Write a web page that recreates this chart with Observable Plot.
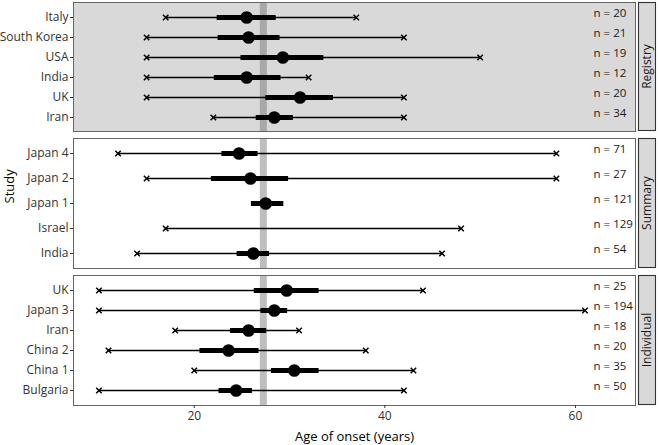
<!DOCTYPE html>
<html>
<head>
<meta charset="utf-8">
<script src="https://cdn.jsdelivr.net/npm/d3@7"></script>
<script src="https://cdn.jsdelivr.net/npm/@observablehq/plot@0.6"></script>
<style>
  html, body { margin: 0; padding: 0; background: #fff; }
  #chart { position: relative; width: 659px; height: 445px; font-family: "Open Sans", sans-serif; }
  #chart > svg { position: absolute; left: 0; }
</style>
</head>
<body>
<div id="chart"></div>
<script>
// ---------- data ----------
const groups = ["Registry", "Summary", "Individual"];

const registryStudies = ["Italy", "South Korea", "USA", "India", "UK", "Iran"];
const registryMin = [17, 15, 15, 15, 15, 22];
const registryQ1  = [22.4, 22.5, 24.9, 22.1, 27.5, 26.5];
const registryMed = [25.5, 25.7, 29.3, 25.5, 31.1, 28.4];
const registryQ3  = [28.6, 29.0, 33.6, 29.1, 34.6, 30.4];
const registryMax = [37, 42, 50, 32, 42, 42];
const registryN   = [20, 21, 19, 12, 20, 34];

const summaryStudies = ["Japan 4", "Japan 2", "Japan 1", "Israel", "India"];
const summaryMin = [12, 15, null, 17, 14];
const summaryQ1  = [22.9, 21.8, 26.0, null, 24.5];
const summaryMed = [24.7, 25.9, 27.5, null, 26.2];
const summaryQ3  = [26.7, 29.9, 29.4, null, 27.9];
const summaryMax = [58, 58, null, 48, 46];
const summaryN   = [71, 27, 121, 129, 54];

const individualStudies = ["UK", "Japan 3", "Iran", "China 2", "China 1", "Bulgaria"];
const individualMin = [10, 10, 18, 11, 20, 10];
const individualQ1  = [26.3, 27.0, 23.8, 20.6, 28.1, 22.6];
const individualMed = [29.7, 28.4, 25.7, 23.6, 30.5, 24.4];
const individualQ3  = [33.1, 29.8, 27.6, 26.8, 33.1, 26.1];
const individualMax = [44, 61, 31, 38, 43, 42];
const individualN   = [25, 194, 18, 20, 35, 50];

const overallOnset = 27.25;     // vertical reference band
const nLabelX = 61.9;           // x position (years) of the "n = " labels
const xTicks = [20, 40, 60];
const xDomain = [7.33, 66.3];

function rows(studies, mn, q1, med, q3, mx, n) {
  return studies.map((s, i) => ({study: s, min: mn[i], q1: q1[i], med: med[i], q3: q3[i], max: mx[i], n: n[i]}));
}

const panels = [
  {group: groups[0], studies: registryStudies, data: rows(registryStudies, registryMin, registryQ1, registryMed, registryQ3, registryMax, registryN),
   top: 0, height: 133, marginTop: 2, marginBottom: 2, fill: "#d9d9d9"},
  {group: groups[1], studies: summaryStudies, data: rows(summaryStudies, summaryMin, summaryQ1, summaryMed, summaryQ3, summaryMax, summaryN),
   top: 133, height: 137, marginTop: 5, marginBottom: 2, fill: "#ffffff", ylabel: "Study"},
  {group: groups[2], studies: individualStudies, data: rows(individualStudies, individualMin, individualQ1, individualMed, individualQ3, individualMax, individualN),
   top: 270, height: 175, marginTop: 5, marginBottom: 40, fill: "#ffffff", xaxis: true}
];

const W = 659, ML = 73, MR = 24;
const chart = document.getElementById("chart");

for (const p of panels) {
  const marks = [
    Plot.frame({fill: p.fill}),
    Plot.ruleX([overallOnset], {stroke: "#646464", strokeOpacity: 0.42, strokeWidth: 7}),
    Plot.ruleY(p.data, {y: "study", x1: "min", x2: "max", stroke: "#000", strokeWidth: 1.3}),
    Plot.dot(p.data, {y: "study", x: "min", symbol: "times", r: 2.6, stroke: "#000", strokeWidth: 1.5}),
    Plot.dot(p.data, {y: "study", x: "max", symbol: "times", r: 2.6, stroke: "#000", strokeWidth: 1.5}),
    Plot.ruleY(p.data, {y: "study", x1: "q1", x2: "q3", stroke: "#000", strokeWidth: 5}),
    Plot.dot(p.data, {y: "study", x: "med", r: 6.3, fill: "#000", stroke: null}),
    Plot.text(p.data, {y: "study", x: () => nLabelX, text: d => `n = ${d.n}`, textAnchor: "start", dy: -4, fill: "#1a1a1a", fontSize: 11.5}),
    Plot.frame({stroke: "#666", strokeWidth: 1}),
    Plot.axisY({tickSize: 3, tickPadding: 2, label: null, fontSize: 12, color: "#333"})
  ];
  if (p.ylabel) {
    marks.push(Plot.text([p.ylabel], {frameAnchor: "left", dx: -64, rotate: -90, fontSize: 13, fill: "#000"}));
  }
  if (p.xaxis) {
    marks.push(Plot.axisX({ticks: xTicks, tickSize: 3, tickPadding: 3, label: null, fontSize: 12, color: "#333"}));
    marks.push(Plot.text(["Age of onset (years)"], {frameAnchor: "bottom", dy: 35, fontSize: 13, fill: "#000"}));
  } else {
    marks.push(Plot.axisX({ticks: [], label: null}));
  }
  const svg = Plot.plot({
    width: W,
    height: p.height,
    marginLeft: ML,
    marginRight: MR,
    marginTop: p.marginTop,
    marginBottom: p.marginBottom,
    style: {fontFamily: "Open Sans", fontSize: "12px", background: "transparent", overflow: "visible"},
    x: {domain: xDomain},
    y: {type: "point", domain: p.studies, padding: 0.6},
    marks
  });
  svg.style.top = p.top + "px";
  // facet strip on the right
  const ph = p.height - p.marginTop - p.marginBottom;
  const g = d3.select(svg).append("g");
  g.append("rect")
    .attr("x", 638.5).attr("y", p.marginTop + 0.5)
    .attr("width", 17).attr("height", ph - 1)
    .attr("fill", "#d9d9d9").attr("stroke", "#333").attr("stroke-width", 1.1);
  g.append("text")
    .attr("transform", `translate(${647 + 4},${p.marginTop + ph / 2}) rotate(-90)`)
    .attr("text-anchor", "middle")
    .attr("font-family", "Open Sans")
    .attr("font-size", 12)
    .attr("fill", "#1a1a1a")
    .text(p.group);
  chart.appendChild(svg);
}
</script>
</body>
</html>
